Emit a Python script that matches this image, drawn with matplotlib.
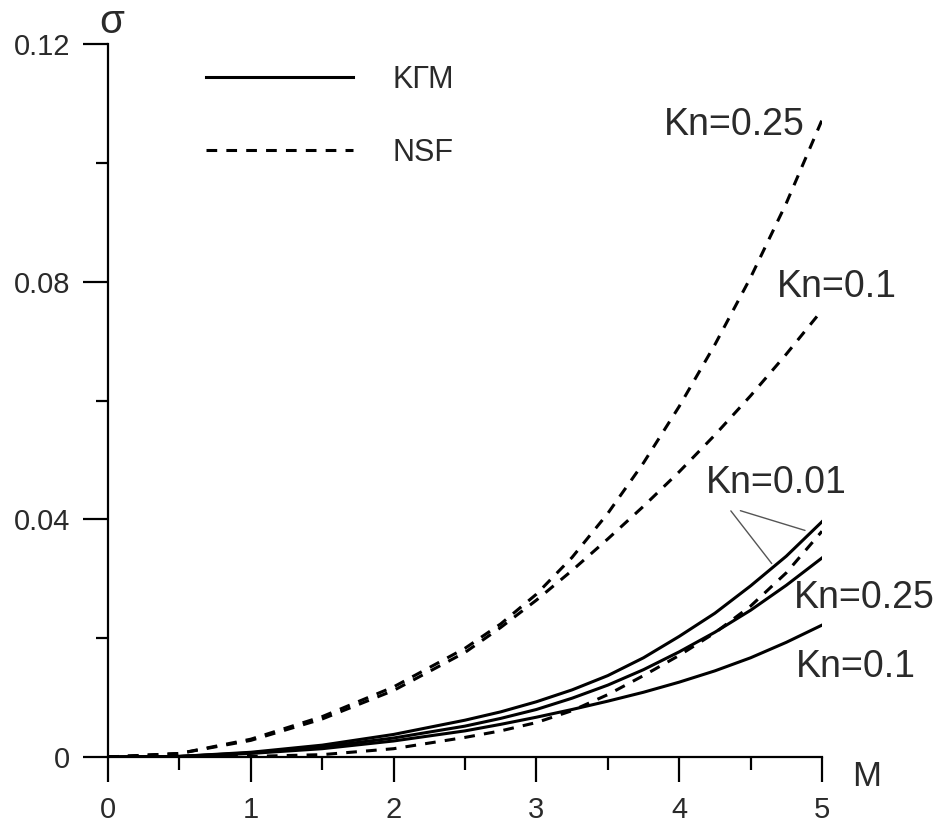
import matplotlib
matplotlib.use('Agg')
import matplotlib.pyplot as plt

plt.rcParams['font.family'] = ['Liberation Sans', 'DejaVu Sans']

# Mach number grid
M = [0, 0.5, 1, 1.5, 2, 2.5, 2.75, 3, 3.25, 3.5, 3.75, 4, 4.25, 4.5, 4.75, 5]

# KGM (solid) curves
kgm_001 = [0, 0.0001, 0.0008, 0.0020, 0.0038, 0.0062, 0.0076, 0.0093, 0.0113, 0.0137,
           0.0167, 0.0203, 0.0242, 0.0288, 0.0338, 0.0396]
kgm_025 = [0, 0.0001, 0.0007, 0.0017, 0.0032, 0.0052, 0.0065, 0.0080, 0.0099, 0.0121,
           0.0147, 0.0177, 0.0210, 0.0247, 0.0289, 0.0335]
kgm_01 = [0, 0.0001, 0.0006, 0.0014, 0.0027, 0.0044, 0.0055, 0.0067, 0.0080, 0.0094,
          0.0109, 0.0126, 0.0145, 0.0167, 0.0193, 0.0222]

# NSF (dashed) curves
nsf_025 = [0, 0.0006, 0.0030, 0.0068, 0.0118, 0.0183, 0.0224, 0.0274, 0.0336, 0.0410,
           0.0495, 0.0590, 0.0694, 0.0807, 0.0932, 0.1072]
nsf_01 = [0, 0.0006, 0.0028, 0.0064, 0.0112, 0.0176, 0.0218, 0.0264, 0.0314, 0.0367,
          0.0422, 0.0480, 0.0542, 0.0608, 0.0678, 0.0752]
nsf_001 = [0, 0.0000, 0.0001, 0.0004, 0.0014, 0.0033, 0.0044, 0.0058, 0.0078, 0.0105,
           0.0137, 0.0171, 0.0209, 0.0254, 0.0310, 0.0380]

xticks = [0, 1, 2, 3, 4, 5]
yticks = [0, 0.04, 0.08, 0.12]
ytick_labels = ['0', '0.04', '0.08', '0.12']

fig = plt.figure(figsize=(9.35, 8.25), dpi=100)
ax = fig.add_axes([0.1155, 0.0824, 0.7636, 0.8642])

lw = 2.2
dash = (3.5, 3)
ax.plot(M, kgm_001, color='black', lw=lw, label='KГМ')
ax.plot(M, kgm_025, color='black', lw=lw)
ax.plot(M, kgm_01, color='black', lw=lw)
ax.plot(M, nsf_025, color='black', lw=lw, ls='--', dashes=dash, label='NSF')
ax.plot(M, nsf_01, color='black', lw=lw, ls='--', dashes=dash)
ax.plot(M, nsf_001, color='black', lw=lw, ls='--', dashes=dash)

ax.set_xlim(0, 5)
ax.set_ylim(0, 0.12)
ax.set_xticks(xticks)
ax.set_xticks([0.5, 1.5, 2.5, 3.5, 4.5], minor=True)
ax.set_yticks(yticks)
ax.set_yticklabels(ytick_labels)
ax.set_yticks([0.02, 0.06, 0.10], minor=True)

for s in ['top', 'right']:
    ax.spines[s].set_visible(False)
for s in ['left', 'bottom']:
    ax.spines[s].set_linewidth(1.6)

ax.tick_params(which='major', direction='out', length=18, width=1.6, labelsize=21)
ax.tick_params(which='minor', direction='out', length=9, width=1.6)
ax.tick_params(axis='y', which='major', pad=9)
ax.tick_params(axis='x', which='major', pad=10)
for t in ax.get_xticklabels() + ax.get_yticklabels():
    t.set_color('#2a2a2a')

# axis names placed as in the original figure
ax.text(0.005, 1.031, 'σ', transform=ax.transAxes, fontsize=29, color='#2a2a2a',
        ha='center', va='center')
ax.text(1.063, -0.028, 'M', transform=ax.transAxes, fontsize=25, color='#2a2a2a',
        ha='center', va='center')

txt = dict(fontsize=27, color='#2a2a2a', va='center', ha='left')
ax.text(3.89, 0.1064, 'Kn=0.25', **txt)
ax.text(4.685, 0.0791, 'Kn=0.1', **txt)
ax.text(4.80, 0.0268, 'Kn=0.25', **txt)
ax.text(4.815, 0.0151, 'Kn=0.1', **txt)
ax.text(4.19, 0.0461, 'Kn=0.01', **txt)
ax.annotate('', xy=(4.66, 0.0322), xytext=(4.35, 0.0418),
            arrowprops=dict(arrowstyle='-', color='#555555', lw=1.0))
ax.annotate('', xy=(4.90, 0.0380), xytext=(4.41, 0.0416),
            arrowprops=dict(arrowstyle='-', color='#555555', lw=1.0))

leg = ax.legend(loc='upper left', bbox_to_anchor=(0.099, 1.009), frameon=False,
                fontsize=22, handlelength=4.8, handletextpad=1.3, labelspacing=1.4)
for t in leg.get_texts():
    t.set_color('#2a2a2a')

fig.savefig('out.png', dpi=100)
